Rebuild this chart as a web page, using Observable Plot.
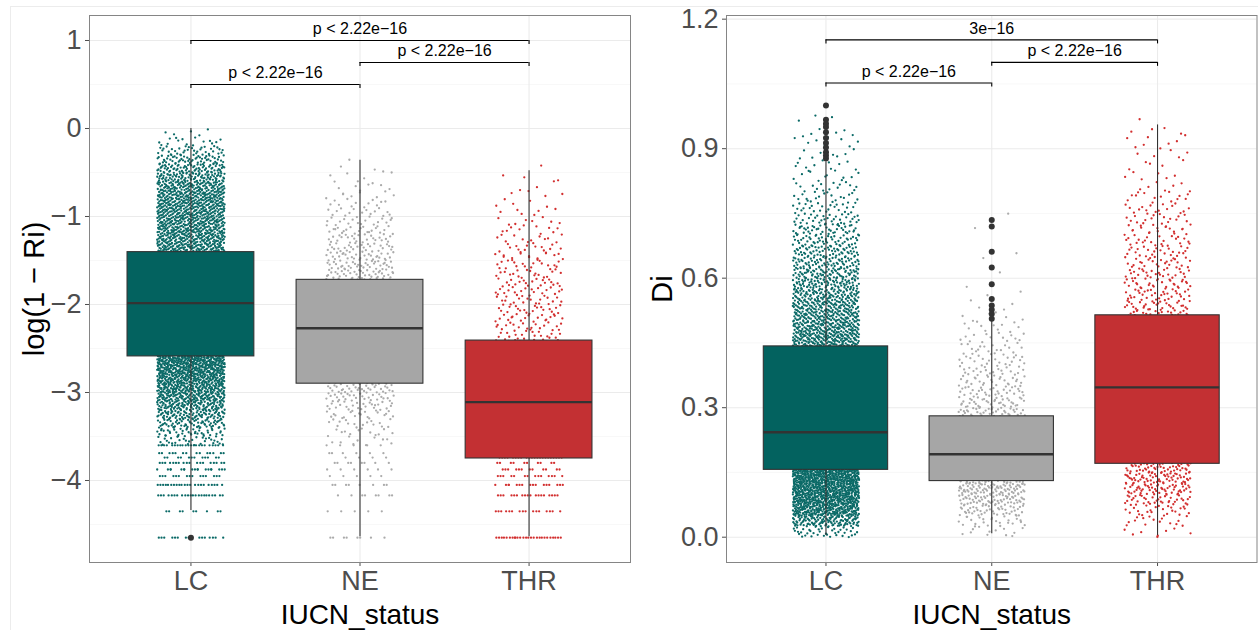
<!DOCTYPE html>
<html><head><meta charset="utf-8">
<script src="https://cdn.jsdelivr.net/npm/d3@7"></script>
<script src="https://cdn.jsdelivr.net/npm/@observablehq/plot@0.6"></script>
<style>
html,body{margin:0;padding:0;background:#fff;}
#wrap{position:relative;width:1258px;height:630px;overflow:hidden;font-family:"Liberation Sans",Arial,Helvetica,sans-serif;}
#edge{position:absolute;left:10px;top:6px;width:1300px;height:700px;border-left:1px solid #ececec;border-top:1px solid #ececec;}
#left{position:absolute;left:0;top:0;}
#right{position:absolute;left:640px;top:0;}
</style></head><body>
<div id="wrap"><div id="edge"></div><div id="left"></div><div id="right"></div></div>
<script>
// ---------- data ----------
const categories = ["LC", "NE", "THR"];
const boxColors = ["#03625f", "#a6a6a6", "#c33033"];
const pointColors = ["#0b6a67", "#ababab", "#d22f2f"];

// Left panel: log(1-Ri) — jittered points as read histogram (bin tops, 0.1 wide) + discrete rows
const riBinTop = [0,-0.1,-0.2,-0.3,-0.4,-0.5,-0.6,-0.7,-0.8,-0.9,-1,-1.1,-1.2,-1.3,-1.4,-1.5,-1.6,-1.7,-1.8,-1.9,-2,-2.1,-2.2,-2.3,-2.4,-2.5,-2.6,-2.7,-2.8,-2.9,-3,-3.1,-3.2,-3.3,-3.4,-3.5];
const riCountLC  = [5,15,35,55,75,95,110,120,125,125,125,125,125,125,210,210,210,210,210,210,210,210,210,210,210,210,190,175,160,145,130,110,90,65,45,30];
const riCountNE  = [0,0,0,1,3,5,7,9,12,15,18,22,25,28,32,35,38,42,42,42,42,42,42,42,42,42,42,42,42,35,30,25,20,16,12,10];
const riCountTHR = [0,0,0,0,1,3,3,4,5,6,8,10,12,14,16,18,18,20,20,20,20,20,20,20,36,36,36,36,36,36,36,36,36,36,36,36];
const riLevels = [-3.6,-3.69,-3.74,-3.8,-3.875,-3.95,-4.05,-4.17,-4.35,-4.65,-4.94];
const riLevelCountLC  = [22,14,12,18,18,15,22,22,9,16,9];
const riLevelCountNE  = [5,6,4,8,6,5,8,8,5,8,6];
const riLevelCountTHR = [22,22,22,10,12,14,16,18,16,26,18];
const riQ1  = [-2.59, -2.90, -3.75];
const riMed = [-1.985, -2.27, -3.11];
const riQ3  = [-1.405, -1.72, -2.41];
const riLo  = [-4.34, -4.64, -4.64];
const riHi  = [0.0, -0.36, -0.48];
const riOutCat = ["LC"];
const riOutVal = [-4.65];
const riTicks = [-4,-3,-2,-1,0,1];
const riMinor = [-4.5,-3.5,-2.5,-1.5,-0.5,0.5];
const riBrFrom = ["LC","NE","LC"];
const riBrTo   = ["NE","THR","THR"];
const riBrY    = [0.5, 0.75, 1.0];
const riBrText = ["p < 2.22e\u221216","p < 2.22e\u221216","p < 2.22e\u221216"];

// Right panel: Di — jittered points as read histogram (bin starts, 0.025 wide)
const diBinLow = [0,0.025,0.05,0.075,0.1,0.125,0.15,0.175,0.2,0.225,0.25,0.275,0.3,0.325,0.35,0.375,0.4,0.425,0.45,0.475,0.5,0.525,0.55,0.575,0.6,0.625,0.65,0.675,0.7,0.725,0.75,0.775,0.8,0.825,0.85,0.875,0.9,0.925,0.95,0.975];
const diCountLC  = [40,120,200,230,250,260,300,350,350,330,200,180,165,155,150,145,140,135,145,130,120,110,100,90,80,70,60,50,45,35,25,20,15,12,10,8,7,7,2,1];
const diCountNE  = [12,25,45,65,80,85,95,100,100,95,85,50,38,32,28,25,22,18,14,11,6,4,2,1,1,1,1,0,1,1,0,0,0,0,0,0,0,0,0,0];
const diCountTHR = [8,15,25,40,55,60,55,40,40,40,40,40,40,40,40,40,40,40,40,40,40,35,32,30,28,26,24,22,20,18,16,14,7,6,5,5,6,6,1,0];
const diQ1  = [0.156, 0.130, 0.170];
const diMed = [0.243, 0.192, 0.347];
const diQ3  = [0.442, 0.280, 0.514];
const diLo  = [0.004, 0.008, 0.004];
const diHi  = [0.869, 0.505, 0.955];
const diOutCat = ["LC","LC","LC","LC","LC","LC","LC","LC","LC","LC","LC","NE","NE","NE","NE","NE","NE","NE","NE","NE","NE"];
const diOutVal = [1.0,0.967,0.958,0.95,0.938,0.925,0.913,0.903,0.892,0.884,0.877,0.735,0.72,0.661,0.625,0.586,0.552,0.537,0.527,0.517,0.506];
const diTicks = [0,0.3,0.6,0.9,1.2];
const diMinor = [0.15,0.45,0.75,1.05];
const diBrFrom = ["LC","NE","LC"];
const diBrTo   = ["NE","THR","THR"];
const diBrY    = [1.052, 1.10, 1.152];
const diBrText = ["p < 2.22e\u221216","p < 2.22e\u221216","3e\u221216"];

// ---------- helpers ----------
const FONT = '"Liberation Sans", Arial, Helvetica, sans-serif';
const pos = c => categories.indexOf(c) + 1;
// deterministic (Halton) layout of the jitter inside each bin
function halton(n, b) { let f = 1, r = 0; while (n > 0) { f /= b; r += f * (n % b); n = Math.floor(n / b); } return r; }

function cloud(binStarts, step, counts, levels, levelCounts) {
  const out = []; let g = 1;
  categories.forEach((cat, ci) => {
    binStarts.forEach((b, i) => {
      for (let k = 0; k < counts[ci][i]; k++, g++)
        out.push({cat, x: ci + 1 + halton(g, 2) * 0.4 - 0.2, y: b + halton(g, 3) * step});
    });
    if (levels) levels.forEach((lv, i) => {
      for (let k = 0; k < levelCounts[ci][i]; k++, g++)
        out.push({cat, x: ci + 1 + halton(g, 5) * 0.4 - 0.2, y: lv});
    });
  });
  return out;
}
function boxes(q1, med, q3, lo, hi) {
  return categories.map((c, i) => ({x: i + 1, q1: q1[i], med: med[i], q3: q3[i], lo: lo[i], hi: hi[i], fill: boxColors[i]}));
}
function brackets(from, to, y, text) {
  return from.map((f, i) => ({x1: pos(f), x2: pos(to[i]), y: y[i], text: text[i]}));
}

function panel({pts, box, outCat, outVal, br, drop, ticks, minor, fmt, yDomain, width, marginLeft, marginRight, yTitle, yTitleDx}) {
  const ends = br.flatMap(b => [{x: b.x1, y: b.y}, {x: b.x2, y: b.y}]);
  const outs = outCat.map((c, i) => ({x: pos(c), y: outVal[i]}));
  return Plot.plot({
    width, height: 630,
    marginTop: 15, marginBottom: 68, marginLeft, marginRight,
    style: {fontFamily: FONT, background: "transparent", color: "#4d4d4d", overflow: "visible"},
    x: {type: "linear", domain: [0.4, 3.6]},
    y: {domain: yDomain},
    color: {type: "identity"},
    marks: [
      Plot.ruleY(minor, {stroke: "#f3f3f3", strokeWidth: 0.7}),
      Plot.ruleY(ticks, {stroke: "#ebebeb", strokeWidth: 1.1, clip: true}),
      Plot.ruleX([1, 2, 3], {stroke: "#ebebeb", strokeWidth: 1.1}),
      categories.map((c, i) => Plot.dot(pts.filter(d => d.cat === c), {x: "x", y: "y", r: 1.15, fill: pointColors[i], stroke: null, clip: true})),
      Plot.ruleX(box, {x: "x", y1: "q3", y2: "hi", stroke: "#333", strokeWidth: 1.1}),
      Plot.ruleX(box, {x: "x", y1: "q1", y2: "lo", stroke: "#333", strokeWidth: 1.1}),
      Plot.rect(box, {x1: d => d.x - 0.375, x2: d => d.x + 0.375, y1: "q1", y2: "q3", fill: "fill", stroke: "#333", strokeWidth: 1.1}),
      Plot.ruleY(box, {y: "med", x1: d => d.x - 0.375, x2: d => d.x + 0.375, stroke: "#333", strokeWidth: 2.4}),
      Plot.dot(outs, {x: "x", y: "y", r: 3, fill: "#333", stroke: null}),
      Plot.ruleY(br, {y: "y", x1: "x1", x2: "x2", stroke: "black", strokeWidth: 1.1}),
      Plot.ruleX(ends, {x: "x", y1: "y", y2: d => d.y - drop, stroke: "black", strokeWidth: 1.1}),
      Plot.text(br, {x: d => (d.x1 + d.x2) / 2, y: "y", text: "text", dy: -6, lineAnchor: "bottom", fontSize: 16, fill: "black"}),
      Plot.axisY({ticks, tickFormat: fmt, tickSize: 4, tickPadding: 4, fontSize: 27, label: null}),
      Plot.axisX({ticks: [1, 2, 3], tickFormat: d => categories[d - 1], tickSize: 4, tickPadding: 4, fontSize: 27, label: null}),
      Plot.text([yTitle], {frameAnchor: "left", dx: yTitleDx, rotate: -90, textAnchor: "middle", lineAnchor: "middle", fontSize: 29, fill: "black"}),
      Plot.text(["IUCN_status"], {frameAnchor: "bottom", dy: 53, textAnchor: "middle", lineAnchor: "middle", fontSize: 28, fill: "black"}),
      Plot.frame({stroke: "#858585", strokeWidth: 1})
    ]
  });
}

const riPts = cloud(riBinTop, -0.1, [riCountLC, riCountNE, riCountTHR], riLevels, [riLevelCountLC, riLevelCountNE, riLevelCountTHR]);
const diPts = cloud(diBinLow, 0.025, [diCountLC, diCountNE, diCountTHR], null, null);

document.getElementById("left").append(panel({
  pts: riPts, box: boxes(riQ1, riMed, riQ3, riLo, riHi), outCat: riOutCat, outVal: riOutVal,
  br: brackets(riBrFrom, riBrTo, riBrY, riBrText), drop: 0.045,
  ticks: riTicks, minor: riMinor, fmt: d => d < 0 ? "\u2212" + Math.abs(d) : String(d),
  yDomain: [-4.932, 1.284], width: 640, marginLeft: 89, marginRight: 10,
  yTitle: "log(1 \u2212 Ri)", yTitleDx: -55
}));
document.getElementById("right").append(panel({
  pts: diPts, box: boxes(diQ1, diMed, diQ3, diLo, diHi), outCat: diOutCat, outVal: diOutVal,
  br: brackets(diBrFrom, diBrTo, diBrY, diBrText), drop: 0.0093,
  ticks: diTicks, minor: diMinor, fmt: d => d.toFixed(1),
  yDomain: [-0.0586, 1.2085], width: 618, marginLeft: 86, marginRight: 1.5,
  yTitle: "Di", yTitleDx: -64
}));
</script>
</body></html>
